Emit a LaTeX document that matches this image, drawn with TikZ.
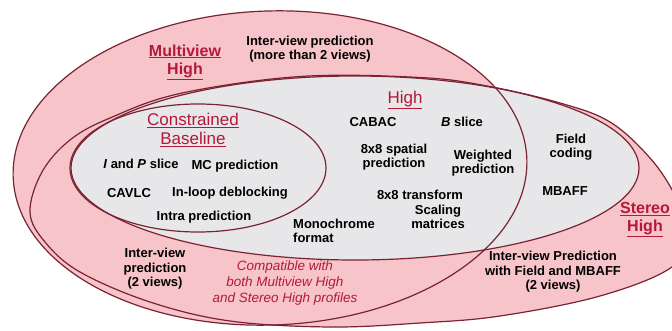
\documentclass[tikz,border=0pt]{standalone}
\usepackage{fontspec}
\setmainfont{Liberation Sans}
\definecolor{pinkfill}{HTML}{F7C4CA}
\definecolor{grayfill}{HTML}{E7E7E9}
\definecolor{edge}{HTML}{7B2233}
\definecolor{lblred}{HTML}{B4193A}
\begin{document}
\begin{tikzpicture}[x=1pt,y=-1pt,
  region/.style={draw=edge, line width=1.2pt},
  txt/.style={font=\bfseries\fontsize{13}{14.5}\selectfont, align=center, inner sep=0pt, text=black},
  lblbold/.style={font=\bfseries\fontsize{16}{18}\selectfont, align=center, inner sep=0pt, text=lblred},
  lblreg/.style={font=\fontsize{17}{19}\selectfont, align=center, inner sep=0pt, text=lblred},
  note/.style={font=\itshape\fontsize{13.5}{16}\selectfont, align=center, inner sep=0pt, text=lblred}]
\clip (0,0) rectangle (672,331);
\fill[white] (0,0) rectangle (672,331);
% Stereo High region
\def\shpath{plot[smooth cycle, tension=0.6] coordinates {(30,212) (42,172) (70,140) (110,118) (180,93.5) (300,76.5) (420,77.5) (487,86) (560,103) (610,122) (650,158) (675,195) (690,232) (672,267) (600,296) (500,316) (420,323) (330,327) (230,321) (150,302) (80,272) (45,242)}}
\fill[pinkfill] \shpath;
% Multiview High region
\fill[pinkfill, rotate around={2:(270,168)}] (270,168) ellipse [x radius=257pt, y radius=157pt];
% High region
\fill[grayfill] (355,168) ellipse [x radius=284pt, y radius=92pt];
% Constrained Baseline region
\fill[grayfill] (198,168) ellipse [x radius=128pt, y radius=64pt];
% outlines
\draw[region] \shpath;
\draw[region, rotate around={2:(270,168)}] (270,168) ellipse [x radius=257pt, y radius=157pt];
\draw[region] (355,168) ellipse [x radius=284pt, y radius=92pt];
\draw[region] (198,168) ellipse [x radius=128pt, y radius=64pt];
% labels
\node[lblbold] (mvh) at (185,62) {\underline{Multiview}\\\underline{High}};
\node[lblreg] (high) at (405,100) {\underline{High}};
\node[lblreg] (cb) at (193,130) {\underline{Constrained}\\\underline{Baseline}};
\node[lblbold] (sh) at (645,220) {\underline{Stereo}\\\underline{High}};
% texts
\node[txt] (ivmore) at (310,49) {Inter-view prediction\\(more than 2 views)};
\node[txt] (cabac) at (373,122) {CABAC};
\node[txt] (bslice) at (462,122) {\textit{B} slice};
\node[txt] (spatial) at (394,157) {8x8 spatial\\prediction};
\node[txt] (weighted) at (483,163) {Weighted\\prediction};
\node[txt] (field) at (571,147) {Field\\coding};
\node[txt] (mbaff) at (565,191) {MBAFF};
\node[txt] (transform) at (420,195) {8x8 transform};
\node[txt] (scaling) at (438,217) {Scaling\\matrices};
\node[txt, anchor=west, align=left] (mono) at (293,231) {Monochrome\\format};
\node[txt] (ipslice) at (141,164) {\textit{I} and \textit{P} slice};
\node[txt] (mc) at (235,166) {MC prediction};
\node[txt] (cavlc) at (129,193) {CAVLC};
\node[txt] (deblock) at (230,193) {In-loop deblocking};
\node[txt] (intra) at (204,217) {Intra prediction};
\node[txt] (ivtwo) at (155,269) {Inter-view\\prediction\\(2 views)};
\node[note] (compat) at (285,283) {Compatible with\\both Multiview High\\and Stereo High profiles};
\node[txt] (ivfield) at (553,272) {Inter-view Prediction\\with Field and MBAFF\\(2 views)};
\end{tikzpicture}
\end{document}
